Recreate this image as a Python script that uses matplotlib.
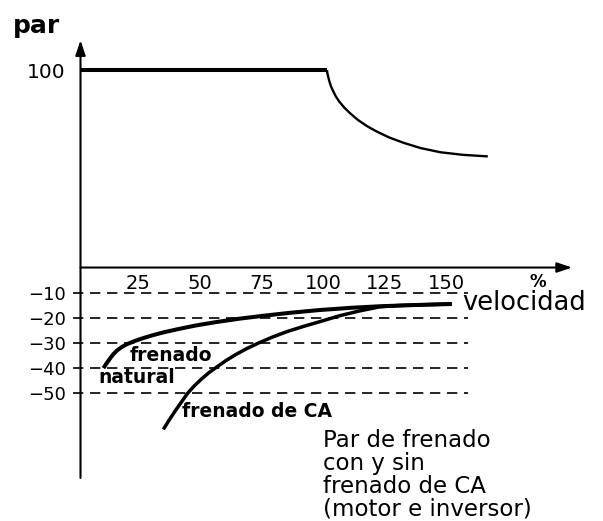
import numpy as np
import matplotlib
matplotlib.use('Agg')
import matplotlib.pyplot as plt
from matplotlib.transforms import ScaledTranslation

plt.rcParams['font.family'] = ['DejaVu Sans']

# velocidad (%) y par (%) de la curva de motor
speed_flat = [0, 100]
torque_flat = [100, 100]
speed_field = [100, 100.1, 100.4, 100.9, 101.6, 102.5, 103.6, 105, 107, 109.5, 112.5, 116,
               120, 125, 131, 138, 146, 155, 165.2]
torque_field = [100, 98.6, 97, 94.5, 91.8, 89.3, 86.6, 84, 81, 78, 74.8, 71.8,
                69, 66, 63.2, 60.5, 58.4, 57.1, 56.3]

# par de frenado natural
speed_nat = [9.3, 10.5, 11.8, 13.2, 14.8, 16.6, 18.8, 21.5, 25, 29, 34, 40, 47, 55, 64, 74,
             85, 97, 110, 121.5, 136, 150.6]
torque_nat = [-40, -38.2, -36.4, -34.6, -33.0, -31.7, -30.5, -29.4, -28.2, -27.0, -25.7,
              -24.4, -23.0, -21.7, -20.4, -19.2, -18.0, -16.9, -16.0, -15.4, -14.9, -14.5]

# par de frenado con frenado de CA
speed_ac = [33.6, 36, 38.5, 41, 43.3, 46, 49, 52, 55.5, 59, 63, 67.5, 72.5, 78, 84, 90.5,
            97.5, 105, 113, 121.5, 129, 139, 150.6]
torque_ac = [-64.4, -60.6, -56.9, -53.4, -50.2, -47.2, -44.4, -41.9, -39.4, -37.0, -34.6,
             -32.2, -29.9, -27.6, -25.4, -23.4, -21.4, -19.2, -17.3, -15.6, -15.1, -14.8, -14.5]

grid_levels = [-10, -20, -30, -40, -50]
y_ticks = [100, -10, -20, -30, -40, -50]
y_labels = ['100', '\u221210', '\u221220', '\u221230', '\u221240', '\u221250']
x_ticks = [25, 50, 75, 100, 125, 150]
x_labels = ['25', '50', '75', '100', '125', '150']

POS_SCALE = 0.785  # la parte positiva del eje va más comprimida


def fwd(y):
    y = np.asarray(y, dtype=float)
    return np.where(y > 0, y * POS_SCALE, y)


def inv(y):
    y = np.asarray(y, dtype=float)
    return np.where(y > 0, y / POS_SCALE, y)


W, H = 603, 521
fig = plt.figure(figsize=(W / 100, H / 100), dpi=100)
ax = fig.add_axes([80.5 / W, (H - 480) / H, (580 - 80.5) / W, (480 - 36) / H])
ax.set_yscale('function', functions=(fwd, inv))
ax.set_xlim(0, 202.6)
ax.set_ylim(-84.5, 117.3)

for s in ax.spines.values():
    s.set_visible(False)
ax.spines['bottom'].set_position(('data', 0))

# ejes con flecha
arrow = dict(arrowstyle='-|>,head_length=0.9,head_width=0.3', lw=1.5, color='k',
             mutation_scale=10, shrinkA=0, shrinkB=0)
ax.annotate('', xy=(199.4, 0), xytext=(0, 0), arrowprops=arrow, annotation_clip=False)
ax.annotate('', xy=(0, 115.2), xytext=(0, -83.7), arrowprops=arrow, annotation_clip=False)

# líneas de referencia discontinuas
for lev in grid_levels:
    ax.plot([-3, 157.2], [lev, lev], color='k', lw=1.2, linestyle=(0, (6.2, 4.0)),
            clip_on=False)

curve_kw = dict(color='k', solid_joinstyle='round', solid_capstyle='butt')
ax.plot(speed_flat, torque_flat, lw=2.9, **curve_kw)
ax.plot(speed_field, torque_field, lw=1.7, **curve_kw)
ax.plot(speed_nat, torque_nat, lw=2.9, **curve_kw)
ax.plot(speed_ac, torque_ac, lw=2.5, **curve_kw)

ax.set_yticks(y_ticks)
ax.set_yticklabels(y_labels)
ax.tick_params(axis='y', length=0, pad=10.5, labelsize=13)
ax.get_yticklabels()[0].set_fontsize(14.5)

ax.set_xticks(x_ticks)
ax.set_xticklabels(x_labels)
ax.tick_params(axis='x', length=0, pad=4.5, labelsize=14)
for lbl in ax.get_xticklabels():
    lbl.set_transform(lbl.get_transform() + ScaledTranslation(-4 / 100, 0, fig.dpi_scale_trans))

fig.text(13 / W, 1 - 26 / H, 'par', ha='left', va='center', fontsize=18, fontweight='bold')
ax.text(185.4, -5.7, '%', ha='center', va='center', fontsize=12, fontweight='bold')
ax.text(154.8, -14.1, 'velocidad', ha='left', va='center', fontsize=18.5)
ax.text(20.1, -35.0, 'frenado', ha='left', va='center', fontsize=13.5, fontweight='bold')
ax.text(7.1, -43.9, 'natural', ha='left', va='center', fontsize=13.5, fontweight='bold')
ax.text(41.2, -57.3, 'frenado de CA', ha='left', va='center', fontsize=13.5, fontweight='bold')
ax.text(98.4, -64.2, 'Par de frenado\ncon y sin\nfrenado de CA\n(motor e inversor)',
        ha='left', va='top', fontsize=16.5, linespacing=1.0)

fig.savefig('out.png', dpi=100)
